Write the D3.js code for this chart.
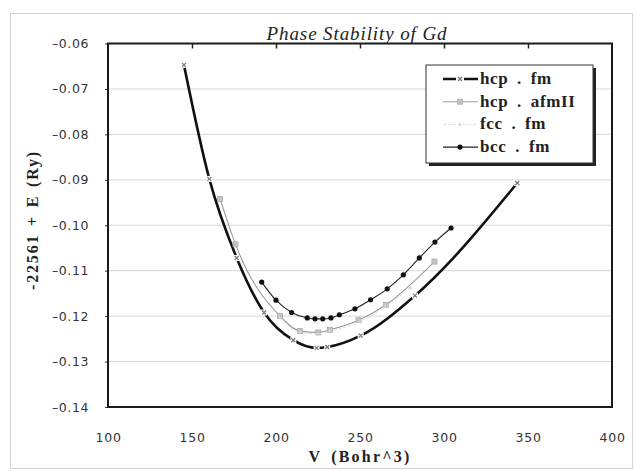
<!DOCTYPE html>
<html>
<head>
<meta charset="utf-8">
<script src="https://cdn.jsdelivr.net/npm/d3@7"></script>
<style>
  body { margin: 0; background: #fff; }
  svg { display: block; }
</style>
</head>
<body>
<script>
// data (V in Bohr^3, E in Ry offset by -22561)
var hcpFmV = [145.2, 160.3, 176.6, 192.9, 210.3, 224.2, 230.5, 250.4, 282.7, 343.6];
var hcpFmE = [-0.0647, -0.0898, -0.1072, -0.1192, -0.1253, -0.1270, -0.1268, -0.1243, -0.1155, -0.0907];

var hcpAfmV = [166.7, 175.9, 202.4, 214.3, 225.2, 232.1, 249.1, 265.5, 294.3];
var hcpAfmE = [-0.0942, -0.1042, -0.1200, -0.1233, -0.1236, -0.1230, -0.1209, -0.1175, -0.1080];

var fccFmV = [202.0, 214.0, 225.0, 232.0, 250.0, 265.0, 280.0];
var fccFmE = [-0.1203, -0.1235, -0.1239, -0.1233, -0.1212, -0.1179, -0.1138];

var bccFmV = [191.5, 200.0, 209.3, 218.6, 223.2, 227.8, 232.7, 237.7, 247.0, 256.3, 266.2, 275.8, 285.3, 294.6, 304.2];
var bccFmE = [-0.1125, -0.1165, -0.1192, -0.1204, -0.1206, -0.1206, -0.1204, -0.1197, -0.1184, -0.1164, -0.1140, -0.1109, -0.1072, -0.1037, -0.1006];

var seriesNames = ["hcp . fm", "hcp . afmII", "fcc . fm", "bcc . fm"];
var xTicks = [100, 150, 200, 250, 300, 350, 400];
var yTicks = [-0.06, -0.07, -0.08, -0.09, -0.10, -0.11, -0.12, -0.13, -0.14];
var yTickLabels = ["\u20130.06", "\u20130.07", "\u20130.08", "\u20130.09", "\u20130.10", "\u20130.11", "\u20130.12", "\u20130.13", "\u20130.14"];

var width = 637, height = 471;
var margin = { top: 43.5, right: 25, bottom: 64, left: 108 };

var svg = d3.select("body").append("svg")
  .attr("width", width)
  .attr("height", height);

// faint scan frame
svg.append("rect")
  .attr("x", 10.5).attr("y", 13.5)
  .attr("width", 622).attr("height", 455)
  .attr("fill", "none")
  .attr("stroke", "#d4d4d4")
  .attr("stroke-width", 1);

var x = d3.scaleLinear().domain([100, 400]).range([margin.left, width - margin.right]);
var y = d3.scaleLinear().domain([-0.14, -0.06]).range([height - margin.bottom, margin.top]);

// grid lines
svg.append("g")
  .selectAll("line")
  .data(yTicks.slice(1, -1))
  .enter()
  .append("line")
  .attr("x1", x(100)).attr("x2", x(400))
  .attr("y1", d => y(d)).attr("y2", d => y(d))
  .attr("stroke", "#d6d6d6")
  .attr("stroke-width", 1);

// left axis
var yAxis = svg.append("g")
  .attr("transform", "translate(" + x(100) + ",0)")
  .call(d3.axisLeft(y).tickValues(yTicks).tickSize(3).tickPadding(16));
yAxis.select(".domain").remove();
yAxis.selectAll("text")
  .text((d, i) => yTickLabels[i])
  .style("font-family", "'DejaVu Sans', sans-serif")
  .style("font-size", "12.5px")
  .style("letter-spacing", "0.6px")
  .attr("fill", "#333");
yAxis.selectAll("line").attr("stroke", "#333");

// bottom labels
var xAxis = svg.append("g")
  .attr("transform", "translate(0," + y(-0.14) + ")")
  .call(d3.axisBottom(x).tickValues(xTicks).tickSize(0).tickPadding(26));
xAxis.select(".domain").remove();
xAxis.selectAll("text")
  .style("font-family", "'DejaVu Sans', sans-serif")
  .style("font-size", "12.5px")
  .style("letter-spacing", "0.8px")
  .attr("fill", "#333");

// top inner ticks
var topAxis = svg.append("g")
  .attr("transform", "translate(0," + y(-0.06) + ")")
  .call(d3.axisBottom(x).tickValues(xTicks.slice(1, -1)).tickSize(5).tickFormat(""));
topAxis.select(".domain").remove();
topAxis.selectAll("line").attr("stroke", "#222").attr("stroke-width", 1.5);

// plot frame
svg.append("rect")
  .attr("x", x(100)).attr("y", y(-0.06))
  .attr("width", x(400) - x(100))
  .attr("height", y(-0.14) - y(-0.06))
  .attr("fill", "none")
  .attr("stroke", "#1a1a1a")
  .attr("stroke-width", 2);

// series
function pts(vs, es) {
  return vs.map((v, i) => [v, es[i]]);
}

var line = d3.line()
  .x(d => x(d[0]))
  .y(d => y(d[1]))
  .curve(d3.curveMonotoneX);

var series = [
  { name: seriesNames[0], data: pts(hcpFmV, hcpFmE), stroke: "#111", sw: 2.6, dash: null, marker: "x", mcolor: "#777" },
  { name: seriesNames[1], data: pts(hcpAfmV, hcpAfmE), stroke: "#9a9a9a", sw: 1.1, dash: null, marker: "square", mcolor: "#aaa" },
  { name: seriesNames[2], data: pts(fccFmV, fccFmE), stroke: "#dcdcdc", sw: 1, dash: "3,2", marker: "plus", mcolor: "#d4d4d4" },
  { name: seriesNames[3], data: pts(bccFmV, bccFmE), stroke: "#222", sw: 1.1, dash: null, marker: "circle", mcolor: "#111" }
];

function drawMarker(g, type, color) {
  if (type === "x") {
    g.append("path").attr("d", "M-2,-2L2,2M-2,2L2,-2")
      .attr("stroke", color).attr("stroke-width", 1.2);
  } else if (type === "square") {
    g.append("rect").attr("x", -2.5).attr("y", -2.5).attr("width", 5).attr("height", 5)
      .attr("fill", "#c4c4c4").attr("stroke", color).attr("stroke-width", 0.8);
  } else if (type === "plus") {
    g.append("path").attr("d", "M-2,0L2,0M0,-2L0,2")
      .attr("stroke", color).attr("stroke-width", 1);
  } else {
    g.append("circle").attr("r", 2.6).attr("fill", color);
  }
}

series.forEach(function (s) {
  svg.append("path")
    .datum(s.data)
    .attr("d", line)
    .attr("fill", "none")
    .attr("stroke", s.stroke)
    .attr("stroke-width", s.sw)
    .attr("stroke-dasharray", s.dash);
  svg.append("g")
    .selectAll("g")
    .data(s.data)
    .enter()
    .append("g")
    .attr("transform", d => "translate(" + x(d[0]) + "," + y(d[1]) + ")")
    .each(function () {
      if (s.marker === "x") {
        d3.select(this).append("rect").attr("x", -3).attr("y", -3).attr("width", 6).attr("height", 6).attr("fill", "#fff");
      }
      drawMarker(d3.select(this), s.marker, s.mcolor);
    });
});

// legend
var lg = svg.append("g").attr("transform", "translate(426,65)");
lg.append("rect").attr("x", 3).attr("y", 3).attr("width", 167).attr("height", 98).attr("fill", "#222");
lg.append("rect").attr("x", 0).attr("y", 0).attr("width", 167).attr("height", 98)
  .attr("fill", "#fff").attr("stroke", "#333").attr("stroke-width", 1);

series.forEach(function (s, i) {
  var yy = 14 + i * 22.7;
  lg.append("line")
    .attr("x1", 17).attr("x2", 52)
    .attr("y1", yy).attr("y2", yy)
    .attr("stroke", s.stroke)
    .attr("stroke-width", s.sw)
    .attr("stroke-dasharray", s.dash);
  var m = lg.append("g").attr("transform", "translate(34," + yy + ")");
  if (s.marker === "x") {
    m.append("rect").attr("x", -4).attr("y", -3).attr("width", 8).attr("height", 6).attr("fill", "#fff");
  }
  drawMarker(m, s.marker, s.mcolor);
  lg.append("text")
    .attr("x", 54).attr("y", yy + 5)
    .style("font-family", "'Liberation Serif', serif")
    .style("font-weight", "bold")
    .style("font-size", "17px")
    .style("letter-spacing", "0.6px")
    .style("word-spacing", "4px")
    .attr("fill", "#222")
    .text(s.name);
});

// title
svg.append("text")
  .attr("x", 357).attr("y", 40)
  .attr("text-anchor", "middle")
  .style("font-family", "'Liberation Serif', serif")
  .style("font-style", "italic")
  .style("font-size", "19px")
  .style("letter-spacing", "0.9px")
  .attr("fill", "#222")
  .text("Phase Stability of Gd");

// axis titles
svg.append("text")
  .attr("x", 360).attr("y", 462)
  .attr("text-anchor", "middle")
  .style("font-family", "'Liberation Serif', serif")
  .style("font-weight", "bold")
  .style("font-size", "16px")
  .style("letter-spacing", "2.2px")
  .style("word-spacing", "3px")
  .attr("fill", "#222")
  .text("V (Bohr^3)");

svg.append("text")
  .attr("transform", "translate(38,220) rotate(-90)")
  .attr("text-anchor", "middle")
  .style("font-family", "'Liberation Serif', serif")
  .style("font-weight", "bold")
  .style("font-size", "16px")
  .style("letter-spacing", "1.8px")
  .style("word-spacing", "2px")
  .attr("fill", "#222")
  .text("-22561 + E (Ry)");
</script>
</body>
</html>
